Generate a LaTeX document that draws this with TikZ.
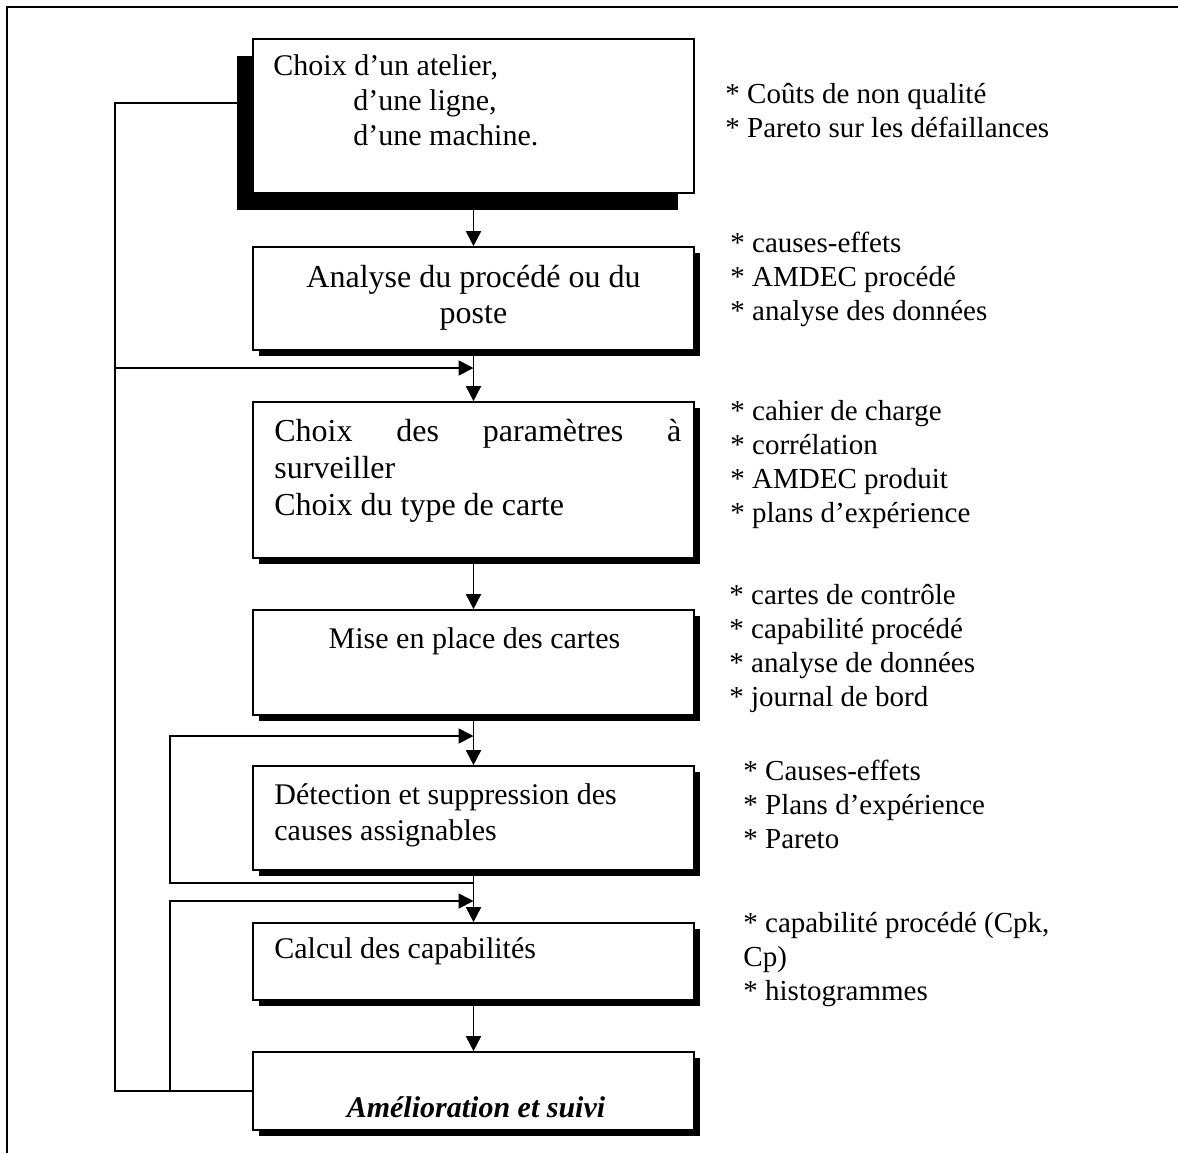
\documentclass[tikz,border=0pt]{standalone}
\usepackage{fontspec}
\setmainfont{Liberation Serif}
\usetikzlibrary{arrows.meta,shadows}

\begin{document}
\begin{tikzpicture}[x=0.5pt,y=-0.5pt,>={Triangle[length=7.5pt,width=7.5pt]},
    boxbase/.style={draw, line width=0.85pt, fill=white, inner sep=0pt, minimum width=220.5pt},
    box/.style={boxbase, drop shadow={shadow xshift=3pt, shadow yshift=-3pt, fill=black, opacity=1}},
    firstbox/.style={boxbase, drop shadow={shadow xshift=-8pt, shadow yshift=-8.5pt, fill=black, opacity=1}},
    boxtxt/.style={font=\fontsize{15}{18}\selectfont, inner sep=0pt, align=left},
    note/.style={font=\fontsize{14.5}{17}\selectfont, inner sep=0pt, align=left, anchor=base west},
    link/.style={line width=0.9pt}]
    \useasboundingbox (0,0) rectangle (1178,1153);

    % Frame
    \draw[line width=1pt] (1178,7) -- (7,7) -- (7,1153);

    % Boxes
    \node[firstbox, minimum height=77pt] (b1) at (473.5,116) {};
    \node[box, minimum height=51.5pt] (b2) at (473.5,298.5) {};
    \node[box, minimum height=78pt] (b3) at (473.5,480) {};
    \node[box, minimum height=52.5pt] (b4) at (473.5,662.5) {};
    \node[box, minimum height=52pt] (b5) at (473.5,818) {};
    \node[box, minimum height=38.5pt] (b6) at (473.5,961.5) {};
    \node[box, minimum height=39pt] (b7) at (473.5,1091) {};

    % Box texts (placed by their last baseline)
    \node[boxtxt, anchor=base west, font=\fontsize{15}{17.5}\selectfont] (t1) at (273,145)
        {Choix d’un atelier,\\\hspace*{40pt}d’une ligne,\\\hspace*{40pt}d’une machine.};
    \node[boxtxt, anchor=base, align=center, font=\fontsize{16}{18}\selectfont] (t2) at (473.5,323)
        {Analyse du procédé ou du\\poste};
    \node[boxtxt, anchor=base west, font=\fontsize{16}{18.5}\selectfont] (t3) at (274,515)
        {\makebox[203.5pt][s]{Choix des paramètres à}\\surveiller\\Choix du type de carte};
    \node[boxtxt, anchor=base] (t4) at (474.5,648) {Mise en place des cartes};
    \node[boxtxt, anchor=base west] (t5) at (274,840)
        {Détection et suppression des\\causes assignables};
    \node[boxtxt, anchor=base west] (t6) at (274,958) {Calcul des capabilités};
    \node[boxtxt, anchor=base, font=\fontsize{15}{18}\selectfont\bfseries\itshape] (t7) at (476,1117)
        {Amélioration et suivi};

    % Notes
    \node[note] (n1) at (725,137) {* Coûts de non qualité\\* Pareto sur les défaillances};
    \node[note] (n2) at (730,320) {* causes-effets\\* AMDEC procédé\\* analyse des données};
    \node[note] (n3) at (730,522) {* cahier de charge\\* corrélation\\* AMDEC produit\\* plans d’expérience};
    \node[note] (n4) at (729,706) {* cartes de contrôle\\* capabilité procédé\\* analyse de données\\* journal de bord};
    \node[note] (n5) at (743,848) {* Causes-effets\\* Plans d’expérience\\* Pareto};
    \node[note] (n6) at (743,1000) {* capabilité procédé (Cpk,\\Cp)\\* histogrammes};

    % Flow
    \draw[link,->] (b1) -- (b2);
    \draw[link,->] (b2) -- (b3);
    \draw[link,->] (b3) -- (b4);
    \draw[link,->] (b4) -- (b5);
    \draw[link,->] (b5) -- (b6);
    \draw[link,->] (b6) -- (b7);

    % Loops
    \coordinate (ltop) at (115,103);
    \coordinate (j1) at (115,368);
    \coordinate (j2) at (170,901);
    \coordinate (j3) at (170,883);
    \coordinate (j4) at (170,736);
    \draw[link] (b7.west) -| (ltop) -- (ltop -| b1.west);
    \draw[link,->] (j1) -- (j1 -| b2.south);
    \draw[link,->] (j2 |- b7.west) -- (j2) -- (j2 -| b6.north);
    \draw[link,->] (j3 -| b5.south) -- (j3) -- (j4) -- (j4 -| b4.south);
\end{tikzpicture}
\end{document}
